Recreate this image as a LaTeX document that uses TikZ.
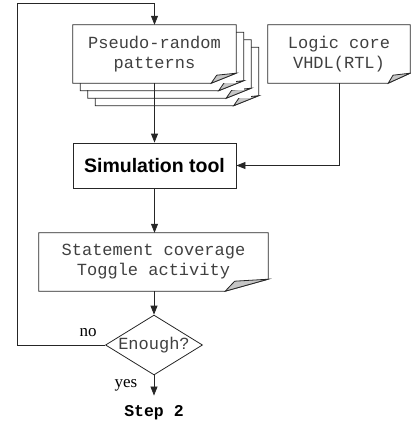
\documentclass[tikz,border=0pt]{standalone}
\usepackage{fontspec}
\setmainfont{Liberation Serif}
\setsansfont{Liberation Sans}
\setmonofont{Liberation Mono}
\usetikzlibrary{arrows.meta}
\usetikzlibrary{shapes.geometric}
\usetikzlibrary{calc}

% outline of a sheet with a folded corner: node, fold width, fold height
\newcommand{\DocShape}[3]{%
  \draw[LineStyle] (#1.north west) -- (#1.north east)
    -- ($(#1.south east)+(0,-#3)$) -- ($(#1.south east)+(-#2,0)$)
    -- (#1.south west) -- cycle;
  \filldraw[LineStyle, fill = gray!45] ($(#1.south east)+(0,-#3)$)
    -- ($(#1.south east)+(-0.78*#2,-#3+2)$)
    -- ($(#1.south east)+(-#2,0)$) -- cycle;
}

\begin{document}
\begin{tikzpicture}[x = 1pt, y = -1pt]
\tikzstyle{LineStyle}=[line width = 0.8pt, draw = black!85]
\tikzstyle{FlowStyle}=[LineStyle, -{Triangle[length = 9pt, width = 7pt]}]
\tikzstyle{DocStyle}=[shape = rectangle,
                      minimum width = 163pt,
                      minimum height = 58pt,
                      fill = white,
                      inner sep = 0pt,
                      align = center,
                      text = black!75,
                      font = \fontsize{17}{20}\selectfont\ttfamily]
\useasboundingbox (0, 0) rectangle (411, 425);
% stacked copies behind the pattern sheet
\foreach \k/\nm in {3/patc, 2/patb, 1/pata}{
  \node[DocStyle] (\nm) at (154.5 + 7.5*\k, 54 + 7.5*\k) {};
  \DocShape{\nm}{25}{10}
}
\node[DocStyle] (pat) at (154.5, 54) {Pseudo-random\\patterns};
\DocShape{pat}{25}{10}
\node[DocStyle, minimum width = 142pt] (logic) at (339, 54) {Logic core\\VHDL(RTL)};
\DocShape{logic}{22}{10}
\node[LineStyle, draw, minimum width = 163pt, minimum height = 45pt,
      font = \fontsize{19.5}{22}\selectfont\sffamily\bfseries] (sim) at (154.5, 165.5) {Simulation tool};
\node[DocStyle, minimum width = 229pt] (stmt) at (153.5, 262) {Statement coverage\\Toggle activity};
\DocShape{stmt}{43}{12}
\node[LineStyle, draw, shape = diamond, aspect = 1.62, inner sep = 0pt,
      minimum width = 94pt, minimum height = 58pt, text = black!75,
      font = \fontsize{17}{20}\selectfont\ttfamily] (enough) at (154, 345) {Enough?};
\node[inner sep = 0pt, inner ysep = 10pt,
      font = \fontsize{16.5}{20}\selectfont\ttfamily\bfseries] (step) at (154, 413) {Step 2};
\node[font = \fontsize{17}{20}\selectfont] (no) at (88, 333) {no};
\node[font = \fontsize{17}{20}\selectfont] (yes) at (126, 385) {yes};
\coordinate (loop) at (17, 3);
% connectors
\draw[FlowStyle] (enough.west) -| (loop) -| (pat.north);
\draw[FlowStyle] (pat.south) -- (sim.north);
\draw[FlowStyle] (logic.south) |- (sim.east);
\draw[FlowStyle] (sim.south) -- (sim.south |- stmt.north);
\draw[FlowStyle] (enough.north |- stmt.south) -- (enough.north);
\draw[FlowStyle] (enough.south) -- (step.north);
\end{tikzpicture}
\end{document}
